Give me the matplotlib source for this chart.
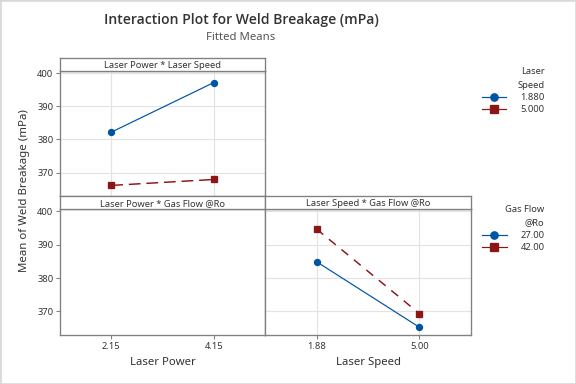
import matplotlib
matplotlib.use('Agg')
import matplotlib.pyplot as plt
from matplotlib.lines import Line2D
from matplotlib.patches import Rectangle

plt.rcParams['font.family'] = ['Noto Sans', 'DejaVu Sans']

W, H = 576, 384

# data
power_levels = ['2.15', '4.15']
speed_levels = ['1.88', '5.00']
speed_legend = ['1.880', '5.000']
gas_legend = ['27.00', '42.00']

power_speed_188 = [382.2, 397.2]
power_speed_500 = [366.1, 367.9]
speed_gas_27 = [384.9, 365.2]
speed_gas_42 = [394.7, 369.3]

yticks = [370, 380, 390, 400]
ylim = (362.9, 400.7)

BLUE = '#0054a6'
RED = '#8c1515'
FRAME = '#808080'
GRID = '#e3e3e3'
TEXT = '#333333'


def px_axes(fig, x0, y0, x1, y1):
    return fig.add_axes([x0 / W, 1 - y1 / H, (x1 - x0) / W, (y1 - y0) / H])


def style_panel(ax, grid=True):
    ax.set_xlim(0.5, 2.5)
    ax.set_ylim(*ylim)
    ax.set_yticks(yticks)
    ax.set_xticks([1, 2])
    for s in ax.spines.values():
        s.set_color(FRAME)
        s.set_linewidth(1.0)
    ax.tick_params(length=3, width=0.8, color=FRAME, labelsize=7, pad=2,
                   labelcolor=TEXT)
    if grid:
        ax.grid(True, color=GRID, linewidth=0.9)
        ax.set_axisbelow(True)


def strip(fig, x0, y0, x1, y1, text):
    ax = px_axes(fig, x0, y0, x1, y1)
    ax.set_xticks([])
    ax.set_yticks([])
    for s in ax.spines.values():
        s.set_color(FRAME)
        s.set_linewidth(1.0)
    ax.text(0.5, 0.45, text, ha='center', va='center', fontsize=7, color=TEXT,
            transform=ax.transAxes)


fig = plt.figure(figsize=(6, 4), dpi=96)

# top left: Laser Power * Laser Speed
ax1 = px_axes(fig, 60, 71, 265, 196)
style_panel(ax1)
x = [1, 2]
ax1.plot(x, power_speed_188, color=BLUE, lw=0.9, marker='o', ms=4.5)
ax1.plot(x, power_speed_500, color=RED, lw=1.1, ls=(0, (8, 4)), marker='s', ms=4.5)
ax1.tick_params(axis='x', labelbottom=False, length=0)
strip(fig, 60, 58, 265, 71, 'Laser Power * Laser Speed')

# bottom left: Laser Power * Gas Flow @Ro (empty)
ax2 = px_axes(fig, 60, 209, 265, 335)
style_panel(ax2, grid=False)
ax2.set_xticklabels(power_levels)
ax2.set_xlabel('Laser Power', fontsize=8.5, color=TEXT, labelpad=5)
strip(fig, 60, 196, 265, 209, 'Laser Power * Gas Flow @Ro')

# bottom right: Laser Speed * Gas Flow @Ro
ax3 = px_axes(fig, 265, 209, 471, 335)
style_panel(ax3)
ax3.plot(x, speed_gas_27, color=BLUE, lw=0.9, marker='o', ms=4.5)
ax3.plot(x, speed_gas_42, color=RED, lw=1.1, ls=(0, (6, 5)), marker='s', ms=4.5)
ax3.set_xticklabels(speed_levels)
ax3.tick_params(axis='y', labelleft=False, length=0)
ax3.set_xlabel('Laser Speed', fontsize=8.5, color=TEXT, labelpad=5)
strip(fig, 265, 196, 471, 209, 'Laser Speed * Gas Flow @Ro')

fig.text(25 / W, 1 - 191 / H, 'Mean of Weld Breakage (mPa)', rotation=90,
         ha='center', va='center', fontsize=8.6, color=TEXT)

fig.text(241 / W, 1 - 20 / H, 'Interaction Plot for Weld Breakage (mPa)',
         ha='center', va='center', fontsize=10.5, fontweight='semibold',
         family=['Open Sans', 'DejaVu Sans'], color=TEXT)
fig.text(241 / W, 1 - 37 / H, 'Fitted Means', ha='center', va='center',
         fontsize=8.5, color='#555555')


def legend(title, labels, top):
    handles = [
        Line2D([], [], color=BLUE, lw=0.9, marker='o', ms=5.5),
        Line2D([], [], color=RED, lw=0.9, marker='s', ms=5.5),
    ]
    leg = fig.legend(handles, labels, title=title, loc='upper right',
                     bbox_to_anchor=(553 / W, 1 - top / H), frameon=False,
                     fontsize=7, title_fontsize=7, alignment='right',
                     handlelength=2.6, handletextpad=1.5, labelspacing=0.35)
    leg.get_title().set_color(TEXT)
    leg.get_title().set_linespacing(1.6)
    leg.get_title().set_multialignment('right')
    for t in leg.get_texts():
        t.set_color(TEXT)
    return leg


legend('Laser\nSpeed', speed_legend, 59)
legend('Gas Flow\n@Ro', gas_legend, 197)

fig.patches.append(Rectangle((0, 0), 1, 1, transform=fig.transFigure, fill=False,
                             edgecolor='#d9d9d9', linewidth=2))

fig.savefig('out.png', dpi=96)
